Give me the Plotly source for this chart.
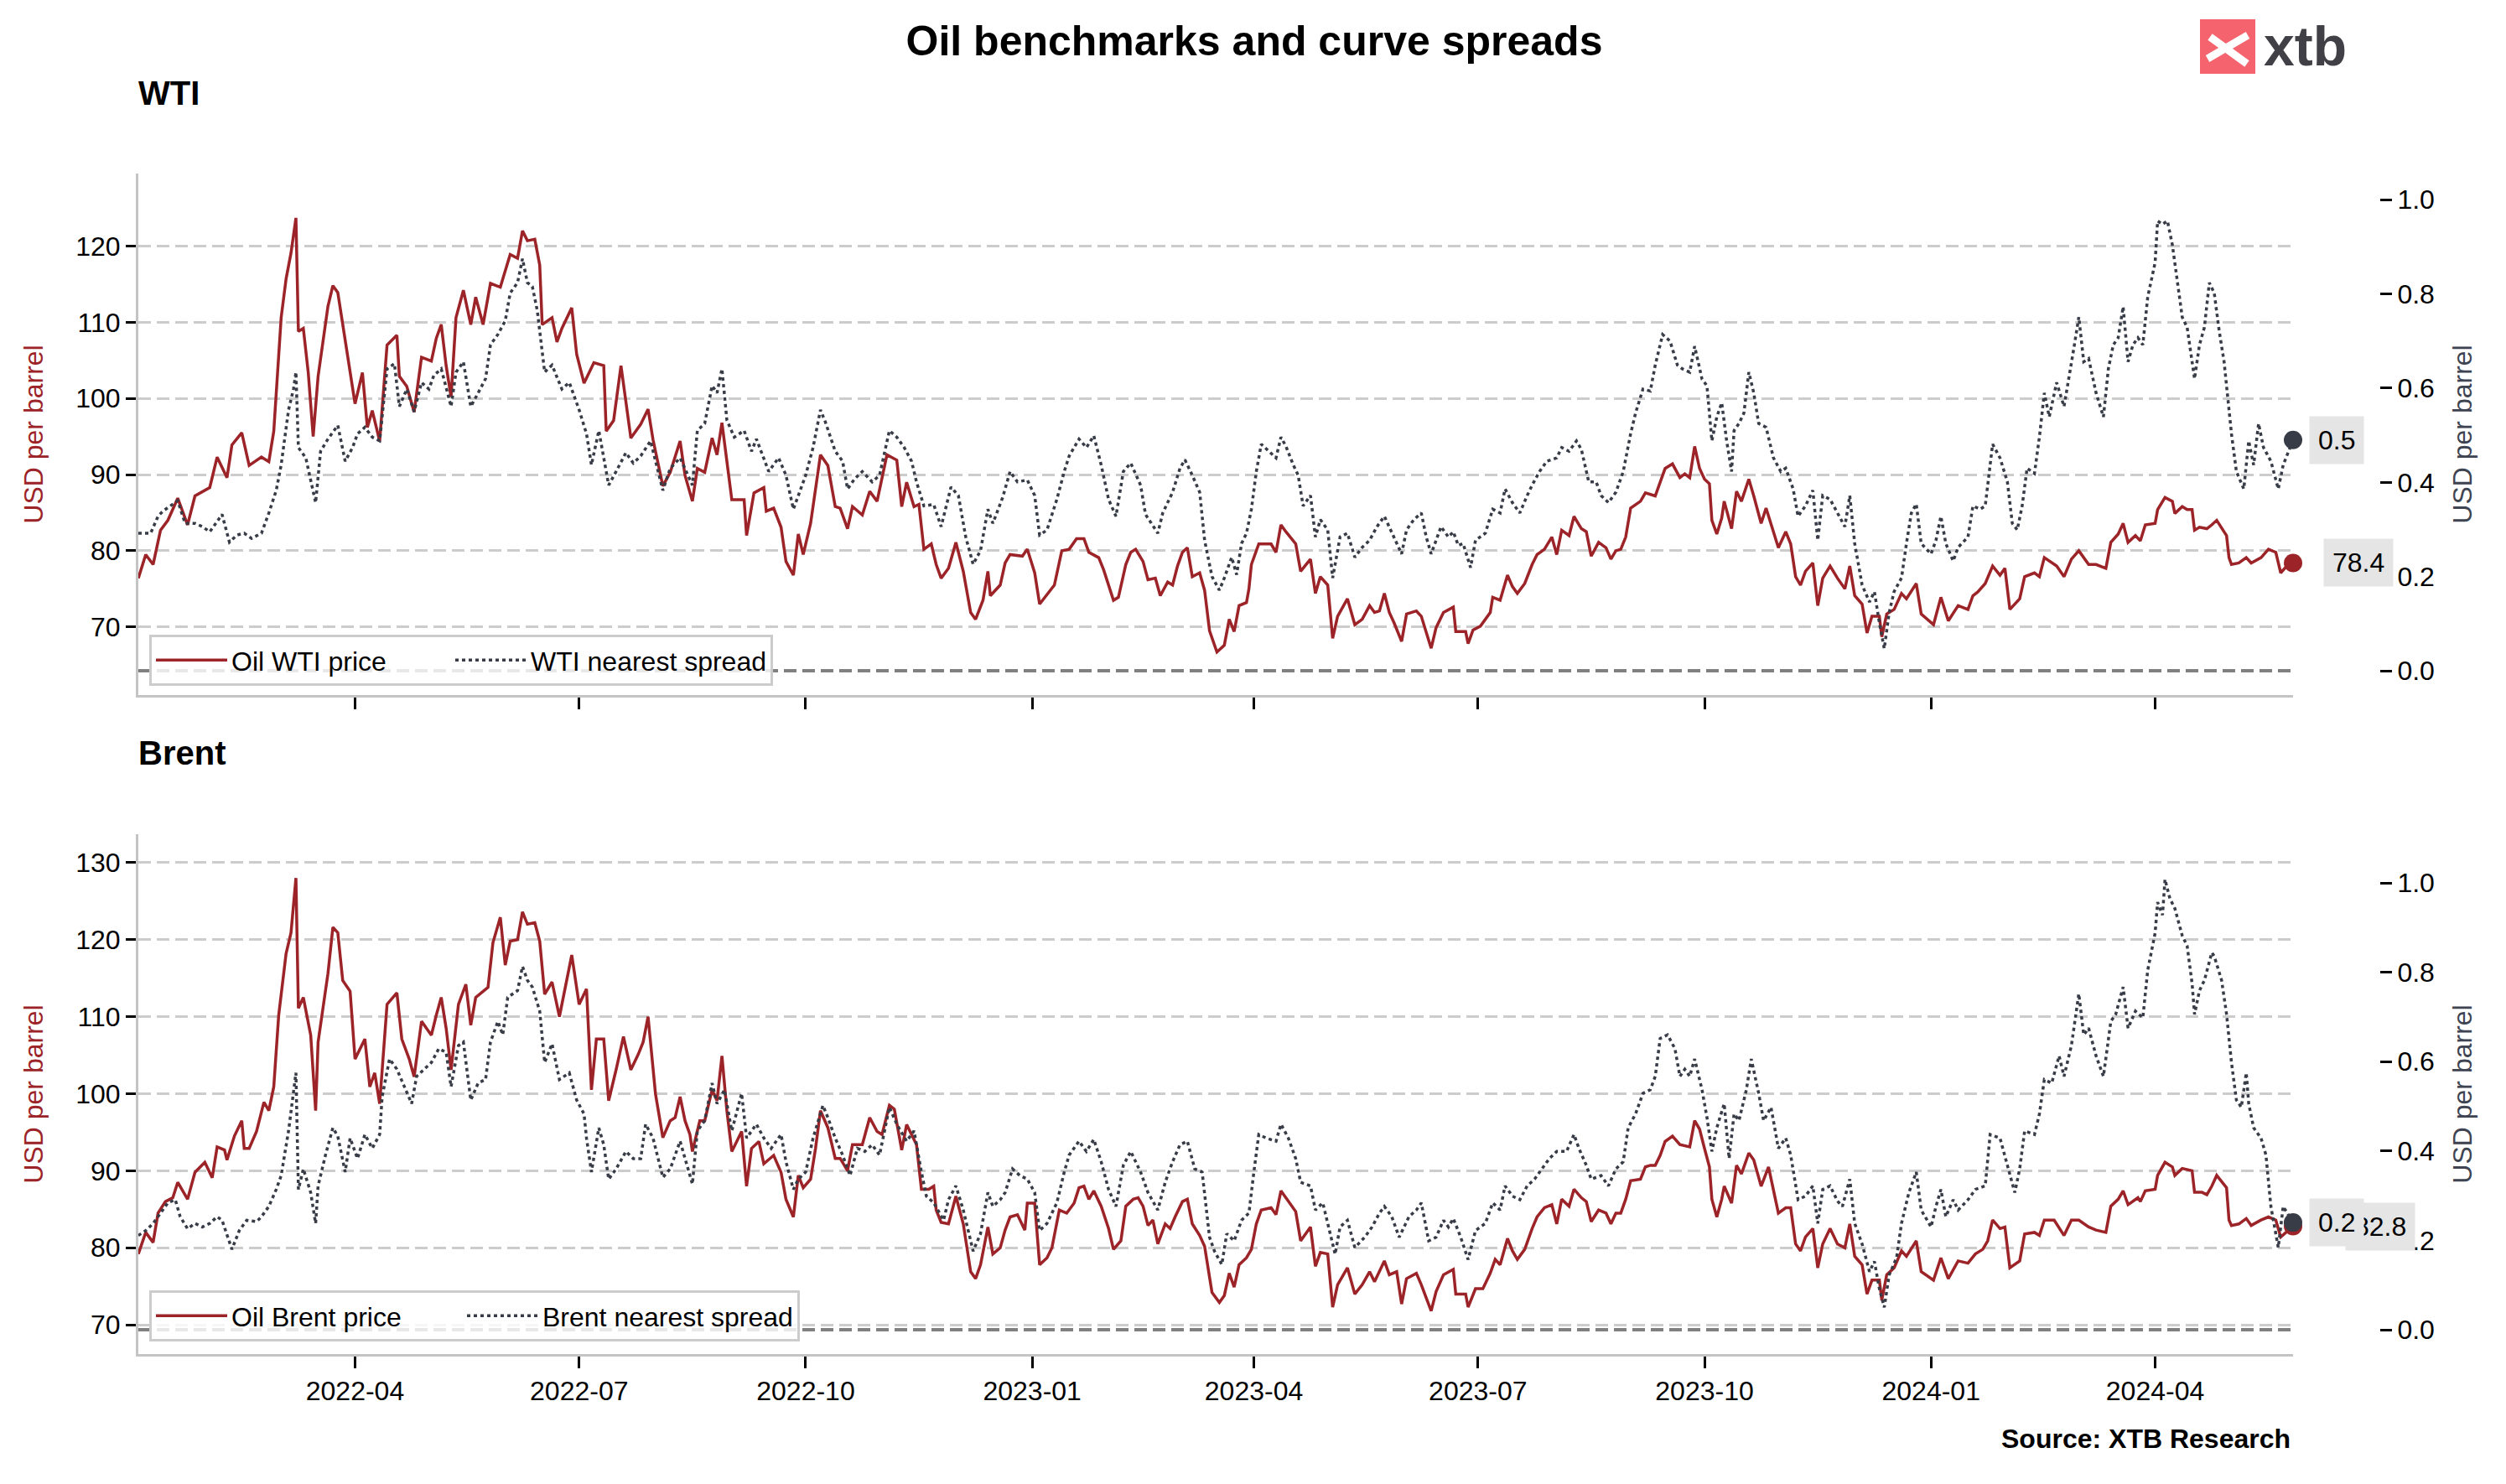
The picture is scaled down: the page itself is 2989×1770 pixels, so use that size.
import pandas as pd
import plotly.graph_objects as go

# ---------------- data (day offset from START, value) ----------------
START = pd.Timestamp("2022-01-03")

wti_price_pts = [
    (0, 76.4), (3, 79.5), (6, 78.2), (9, 82.7), (12, 84.0), (16, 86.9), (20, 83.4), (23, 87.2), (29, 88.3),
    (32, 92.3), (36, 89.6), (38, 93.9), (42, 95.5), (45, 91.2), (50, 92.3), (53, 91.7), (55, 95.7), (58, 110.6),
    (60, 115.7), (62, 119.1), (64, 123.7), (65, 108.8), (67, 109.2), (69, 103.4), (71, 95.0), (73, 102.9),
    (77, 112.1), (79, 114.8), (81, 113.9), (84, 107.9), (86, 103.8), (88, 99.3), (91, 103.4), (93, 96.2),
    (95, 98.4), (98, 94.4), (101, 107.0), (105, 108.3), (106, 102.9), (109, 101.6), (112, 98.2), (115, 105.4),
    (119, 104.9), (121, 107.9), (123, 109.7), (125, 104.3), (127, 100.2), (129, 110.6), (132, 114.2),
    (135, 109.7), (137, 113.3), (140, 109.7), (143, 115.1), (147, 114.6), (151, 118.9), (154, 118.4),
    (156, 122.0), (158, 120.7), (161, 120.9), (163, 117.5), (164, 109.7), (168, 110.6), (170, 107.4),
    (172, 109.2), (176, 111.9), (178, 105.8), (181, 102.0), (185, 104.7), (189, 104.3), (190, 95.7),
    (193, 97.1), (196, 104.3), (200, 94.8), (204, 96.6), (207, 98.6), (209, 94.6), (213, 88.5), (216, 90.3),
    (220, 94.4), (222, 89.9), (225, 86.5), (227, 90.8), (230, 90.3), (233, 94.8), (235, 92.6), (237, 96.8),
    (241, 86.7), (246, 86.7), (247, 82.0), (250, 87.6), (254, 88.3), (255, 85.2), (258, 85.6), (261, 83.1),
    (263, 78.6), (266, 76.8), (268, 82.2), (270, 79.5), (273, 83.6), (275, 88.3), (277, 92.6), (280, 91.2),
    (283, 85.8), (285, 85.6), (288, 82.9), (290, 85.8), (294, 84.7), (297, 87.8), (300, 86.5), (304, 92.6),
    (308, 91.9), (310, 85.8), (312, 89.0), (315, 85.8), (317, 86.1), (319, 80.2), (322, 80.9), (324, 78.2),
    (326, 76.4), (329, 77.7), (332, 81.1), (335, 77.3), (338, 71.9), (340, 71.0), (343, 73.5), (345, 77.3),
    (346, 74.1), (350, 75.5), (352, 78.4), (354, 79.5), (359, 79.3), (361, 80.2), (364, 77.1), (366, 73.0),
    (370, 74.6), (372, 75.5), (375, 80.0), (378, 80.2), (381, 81.6), (384, 81.6), (386, 79.8), (390, 79.1),
    (392, 77.5), (396, 73.5), (398, 73.9), (401, 78.2), (403, 79.8), (405, 80.2), (408, 78.6), (410, 76.2),
    (413, 76.4), (415, 74.1), (418, 75.9), (420, 75.5), (422, 78.0), (424, 79.8), (426, 80.4), (428, 76.6),
    (431, 77.1), (433, 74.8), (435, 69.5), (437, 67.8), (438, 66.7), (441, 67.6), (443, 71.0), (445, 69.4),
    (447, 72.8), (450, 73.2), (451, 75.0), (452, 78.2), (455, 80.9), (460, 80.9), (462, 79.8), (464, 83.4),
    (466, 82.5), (470, 80.9), (472, 77.3), (476, 78.9), (478, 74.4), (480, 76.6), (483, 75.5), (485, 68.5),
    (487, 71.4), (491, 73.7), (494, 70.3), (497, 71.0), (500, 72.8), (502, 71.9), (504, 72.1), (506, 74.4),
    (508, 71.9), (510, 70.5), (513, 68.1), (515, 71.7), (519, 72.1), (521, 71.4), (525, 67.2), (527, 69.9),
    (530, 71.9), (534, 72.6), (535, 69.4), (539, 69.4), (540, 67.8), (542, 69.6), (545, 70.1), (549, 71.9),
    (550, 73.9), (553, 73.5), (556, 76.8), (558, 75.3), (560, 74.4), (563, 75.7), (566, 78.2), (568, 79.5),
    (571, 80.2), (574, 81.8), (576, 79.5), (578, 82.7), (581, 82.0), (583, 84.5), (586, 82.9), (588, 82.5),
    (590, 79.3), (593, 81.1), (596, 80.4), (598, 78.9), (600, 80.0), (602, 80.2), (604, 81.8), (606, 85.6),
    (610, 86.5), (612, 87.6), (614, 87.4), (616, 87.2), (618, 89.0), (620, 90.8), (623, 91.4), (626, 89.6),
    (628, 90.1), (630, 89.6), (632, 93.7), (634, 90.8), (636, 89.4), (638, 88.8), (639, 84.0), (641, 82.2),
    (643, 84.3), (644, 86.5), (647, 82.9), (649, 87.8), (651, 86.5), (654, 89.4), (656, 87.2), (659, 83.6),
    (661, 85.6), (663, 83.4), (666, 80.4), (669, 82.5), (671, 80.9), (673, 76.6), (675, 75.5), (677, 77.3),
    (680, 78.4), (682, 72.8), (684, 76.4), (687, 78.0), (690, 76.4), (693, 75.0), (695, 78.0), (697, 74.1),
    (700, 73.0), (702, 69.2), (704, 71.4), (707, 71.4), (708, 68.7), (710, 71.7), (713, 72.3), (716, 74.4),
    (718, 73.7), (722, 75.7), (724, 71.7), (729, 70.3), (732, 73.9), (735, 70.8), (739, 72.8), (743, 72.3),
    (745, 74.1), (747, 74.6), (750, 75.7), (753, 78.0), (756, 76.8), (758, 77.7), (760, 72.3), (764, 73.7),
    (766, 76.6), (770, 77.1), (772, 76.6), (774, 79.1), (779, 78.0), (782, 76.6), (785, 78.9), (788, 80.0),
    (792, 78.2), (795, 78.2), (799, 77.7), (801, 81.1), (804, 82.2), (806, 83.6), (808, 81.1), (811, 82.0),
    (813, 81.3), (815, 83.4), (819, 83.6), (820, 85.4), (823, 87.0), (826, 86.5), (827, 84.9), (830, 85.8),
    (832, 85.4), (834, 85.4), (835, 82.7), (837, 83.1), (840, 82.9), (842, 83.4), (844, 84.0), (848, 82.0),
    (849, 79.1), (850, 78.2), (853, 78.4), (856, 79.1), (858, 78.4), (862, 79.1), (865, 80.2), (868, 79.8),
    (870, 77.1), (873, 78.2), (875, 78.4),
]

wti_spread_pts = [
    (0, 0.292), (5, 0.292), (8, 0.328), (10, 0.339), (13, 0.350), (16, 0.361), (19, 0.313), (23, 0.313),
    (26, 0.306), (29, 0.295), (32, 0.317), (34, 0.332), (37, 0.273), (40, 0.288), (43, 0.292), (46, 0.281),
    (50, 0.292), (53, 0.335), (56, 0.383), (58, 0.437), (61, 0.554), (63, 0.598), (64, 0.634), (65, 0.474),
    (68, 0.452), (72, 0.357), (74, 0.466), (77, 0.492), (81, 0.521), (84, 0.445), (87, 0.474), (89, 0.503),
    (92, 0.517), (95, 0.496), (98, 0.488), (101, 0.641), (104, 0.652), (106, 0.561), (109, 0.598),
    (112, 0.550), (115, 0.612), (118, 0.598), (120, 0.627), (123, 0.641), (127, 0.561), (129, 0.634),
    (132, 0.656), (135, 0.561), (138, 0.590), (141, 0.620), (143, 0.692), (146, 0.714), (149, 0.743),
    (151, 0.802), (154, 0.824), (156, 0.875), (158, 0.824), (160, 0.816), (162, 0.765), (165, 0.634),
    (168, 0.649), (172, 0.598), (175, 0.612), (179, 0.554), (182, 0.503), (184, 0.437), (187, 0.510),
    (191, 0.394), (194, 0.423), (198, 0.463), (201, 0.441), (204, 0.456), (208, 0.488), (211, 0.423),
    (213, 0.383), (216, 0.430), (220, 0.452), (225, 0.394), (227, 0.510), (230, 0.525), (233, 0.605),
    (235, 0.590), (237, 0.641), (239, 0.532), (242, 0.496), (246, 0.510), (249, 0.466), (251, 0.492),
    (256, 0.423), (260, 0.452), (263, 0.415), (266, 0.343), (269, 0.386), (271, 0.415), (274, 0.474),
    (277, 0.554), (279, 0.528), (283, 0.466), (286, 0.445), (288, 0.386), (291, 0.408), (294, 0.423),
    (298, 0.401), (301, 0.415), (305, 0.510), (308, 0.496), (311, 0.474), (314, 0.445), (316, 0.401),
    (319, 0.350), (323, 0.353), (326, 0.306), (330, 0.390), (333, 0.372), (336, 0.284), (339, 0.226),
    (342, 0.255), (345, 0.343), (347, 0.313), (351, 0.368), (354, 0.423), (357, 0.401), (361, 0.405),
    (364, 0.372), (366, 0.288), (369, 0.299), (373, 0.364), (376, 0.423), (378, 0.456), (382, 0.492),
    (385, 0.474), (388, 0.499), (391, 0.437), (394, 0.364), (397, 0.328), (400, 0.423), (403, 0.441),
    (407, 0.394), (409, 0.332), (414, 0.292), (416, 0.335), (420, 0.379), (423, 0.430), (425, 0.448),
    (428, 0.415), (431, 0.379), (433, 0.277), (436, 0.200), (439, 0.171), (441, 0.197), (444, 0.241),
    (446, 0.204), (448, 0.270), (450, 0.292), (452, 0.343), (454, 0.423), (456, 0.481), (459, 0.466),
    (462, 0.452), (464, 0.496), (466, 0.477), (469, 0.437), (471, 0.415), (473, 0.350), (476, 0.372),
    (478, 0.284), (480, 0.321), (483, 0.299), (485, 0.197), (488, 0.284), (491, 0.292), (494, 0.241),
    (497, 0.262), (500, 0.277), (503, 0.306), (506, 0.328), (508, 0.306), (510, 0.284), (513, 0.248),
    (515, 0.299), (518, 0.321), (521, 0.335), (523, 0.284), (525, 0.248), (529, 0.306), (532, 0.284),
    (534, 0.295), (536, 0.266), (538, 0.270), (541, 0.219), (543, 0.277), (547, 0.292), (550, 0.343),
    (553, 0.335), (555, 0.386), (558, 0.357), (561, 0.335), (564, 0.372), (566, 0.394), (569, 0.423),
    (572, 0.445), (576, 0.452), (578, 0.474), (581, 0.466), (584, 0.488), (586, 0.470), (589, 0.401),
    (592, 0.401), (594, 0.372), (597, 0.357), (600, 0.379), (603, 0.423), (606, 0.503), (608, 0.547),
    (611, 0.598), (614, 0.594), (616, 0.649), (619, 0.714), (622, 0.700), (625, 0.649), (627, 0.641),
    (630, 0.634), (632, 0.689), (635, 0.619), (637, 0.605), (639, 0.488), (641, 0.539), (643, 0.569),
    (645, 0.488), (647, 0.423), (648, 0.510), (650, 0.525), (652, 0.547), (654, 0.634), (656, 0.590),
    (658, 0.525), (661, 0.517), (664, 0.452), (667, 0.423), (669, 0.430), (672, 0.386), (674, 0.328),
    (677, 0.350), (680, 0.383), (682, 0.277), (684, 0.372), (687, 0.364), (690, 0.335), (693, 0.306),
    (695, 0.372), (697, 0.270), (700, 0.182), (703, 0.146), (705, 0.168), (707, 0.102), (709, 0.047),
    (711, 0.124), (713, 0.168), (716, 0.197), (718, 0.270), (720, 0.335), (722, 0.354), (724, 0.270),
    (728, 0.248), (730, 0.277), (732, 0.328), (734, 0.270), (737, 0.233), (739, 0.262), (743, 0.284),
    (745, 0.350), (748, 0.343), (750, 0.350), (753, 0.481), (756, 0.452), (759, 0.401), (761, 0.313),
    (763, 0.299), (765, 0.350), (767, 0.430), (770, 0.419), (772, 0.496), (774, 0.590), (776, 0.539),
    (779, 0.612), (782, 0.561), (784, 0.619), (786, 0.685), (788, 0.751), (790, 0.656), (792, 0.663),
    (795, 0.590), (798, 0.539), (800, 0.641), (802, 0.692), (804, 0.707), (806, 0.773), (808, 0.656),
    (810, 0.692), (812, 0.707), (814, 0.692), (816, 0.794), (819, 0.867), (820, 0.955), (822, 0.948),
    (824, 0.955), (826, 0.904), (828, 0.824), (830, 0.751), (832, 0.729), (835, 0.620), (837, 0.692),
    (839, 0.729), (841, 0.824), (843, 0.802), (845, 0.722), (847, 0.656), (850, 0.503), (852, 0.423),
    (855, 0.386), (857, 0.488), (859, 0.437), (861, 0.525), (863, 0.474), (866, 0.445), (869, 0.386),
    (871, 0.437), (875, 0.49),
]

brent_price_pts = [
    (0, 79.2), (3, 82.0), (6, 80.7), (8, 84.5), (11, 86.0), (14, 86.5), (16, 88.5), (20, 86.3), (23, 89.8),
    (27, 91.1), (30, 89.1), (32, 93.1), (35, 92.7), (36, 91.4), (39, 94.5), (42, 96.5), (43, 92.9),
    (45, 92.9), (48, 95.1), (51, 98.9), (53, 97.8), (55, 100.9), (57, 110.2), (58, 112.9), (60, 118.2),
    (62, 120.9), (64, 128.0), (65, 111.1), (67, 112.5), (70, 107.6), (72, 97.8), (73, 106.7), (75, 111.1),
    (77, 115.6), (79, 121.6), (81, 120.9), (83, 114.7), (86, 113.3), (88, 104.5), (92, 107.1), (94, 100.9),
    (96, 102.7), (98, 98.7), (101, 111.6), (105, 113.1), (107, 107.1), (110, 104.5), (112, 102.2),
    (115, 109.4), (119, 107.6), (121, 110.2), (123, 112.5), (125, 108.5), (127, 103.1), (130, 111.6),
    (133, 114.2), (135, 108.9), (137, 112.5), (142, 113.8), (144, 119.6), (147, 122.9), (149, 116.7),
    (151, 119.8), (154, 120.0), (156, 123.6), (158, 122.0), (161, 122.2), (163, 119.8), (165, 112.9),
    (168, 114.5), (171, 110.0), (174, 114.7), (176, 118.0), (179, 111.6), (182, 113.6), (184, 100.5),
    (186, 107.1), (189, 107.1), (191, 99.1), (194, 103.1), (197, 107.4), (200, 103.1), (203, 105.1),
    (205, 106.7), (207, 110.0), (210, 100.0), (213, 94.3), (216, 96.5), (218, 96.9), (220, 99.6),
    (222, 96.5), (224, 94.7), (225, 92.5), (228, 96.5), (230, 96.5), (233, 100.5), (235, 99.1),
    (237, 104.9), (239, 97.8), (241, 92.5), (245, 95.1), (247, 88.0), (249, 92.9), (252, 93.8), (254, 90.9),
    (258, 92.0), (261, 89.8), (263, 86.3), (266, 84.0), (268, 89.4), (270, 87.8), (273, 88.9), (275, 92.9),
    (277, 97.8), (280, 95.6), (283, 91.6), (285, 91.6), (288, 90.0), (290, 93.4), (294, 93.4), (297, 96.9),
    (300, 95.1), (302, 94.7), (305, 98.5), (307, 98.0), (310, 92.7), (312, 96.0), (316, 93.4), (318, 87.6),
    (321, 87.6), (323, 88.0), (324, 84.9), (326, 83.3), (329, 83.1), (332, 86.7), (335, 83.1), (338, 76.9),
    (340, 76.0), (342, 77.8), (345, 82.7), (347, 79.2), (350, 80.0), (352, 82.3), (354, 84.0), (357, 84.3),
    (360, 82.3), (361, 85.8), (364, 85.8), (366, 77.8), (369, 78.7), (371, 80.0), (374, 84.9), (377, 84.5),
    (380, 85.8), (382, 87.8), (384, 88.0), (386, 86.3), (388, 87.4), (391, 85.4), (394, 82.5), (396, 79.8),
    (399, 80.9), (401, 85.4), (404, 86.3), (406, 86.5), (408, 85.4), (410, 82.9), (412, 83.6), (414, 80.5),
    (417, 83.1), (419, 82.5), (421, 84.0), (424, 86.0), (426, 86.3), (428, 83.1), (431, 81.6), (433, 80.2),
    (436, 74.2), (439, 72.9), (441, 73.8), (443, 76.7), (445, 74.9), (447, 77.8), (450, 78.7), (452, 79.8),
    (454, 83.1), (456, 84.9), (460, 85.2), (462, 84.3), (464, 87.4), (467, 86.0), (470, 84.7), (472, 80.9),
    (476, 82.7), (478, 77.6), (480, 79.4), (483, 79.2), (485, 72.3), (487, 75.2), (491, 77.4), (494, 74.0),
    (497, 75.2), (500, 76.9), (502, 75.6), (506, 78.3), (508, 76.5), (511, 76.9), (513, 72.7), (515, 76.0),
    (519, 76.7), (521, 75.2), (525, 71.8), (527, 74.3), (530, 76.5), (534, 77.2), (535, 74.0), (539, 74.0),
    (540, 72.3), (543, 74.7), (546, 74.7), (549, 76.7), (551, 78.5), (553, 77.8), (556, 81.2), (558, 79.6),
    (560, 78.5), (563, 79.8), (566, 82.5), (568, 84.0), (571, 85.2), (574, 85.6), (576, 83.1), (578, 86.3),
    (581, 85.4), (583, 87.6), (586, 86.5), (588, 86.0), (590, 83.4), (593, 84.9), (596, 84.5), (598, 83.1),
    (600, 84.5), (602, 84.5), (604, 86.3), (606, 88.7), (610, 88.9), (612, 90.5), (614, 90.7), (616, 90.7),
    (618, 92.0), (620, 93.8), (623, 94.5), (626, 93.4), (630, 93.1), (632, 96.5), (634, 95.4), (636, 92.9),
    (638, 90.5), (639, 86.3), (641, 84.0), (643, 86.3), (644, 88.0), (647, 85.8), (649, 90.7), (651, 89.6),
    (654, 92.3), (656, 91.4), (659, 88.0), (662, 90.5), (664, 87.6), (666, 84.5), (669, 85.2), (671, 85.2),
    (673, 80.5), (675, 79.6), (677, 81.4), (680, 82.5), (682, 77.4), (684, 80.5), (687, 82.5), (690, 80.5),
    (693, 80.0), (695, 83.1), (697, 78.9), (700, 77.8), (702, 74.0), (704, 75.8), (707, 75.8), (708, 73.2),
    (710, 76.5), (713, 77.4), (716, 79.6), (718, 78.9), (722, 80.9), (724, 76.9), (729, 75.8), (732, 78.7),
    (735, 76.0), (739, 78.3), (743, 78.0), (746, 79.2), (749, 79.8), (751, 80.9), (753, 83.6), (756, 82.5),
    (758, 82.7), (760, 77.4), (764, 78.3), (766, 81.8), (770, 82.0), (772, 81.6), (774, 83.6), (778, 83.6),
    (782, 81.6), (785, 83.6), (788, 83.6), (792, 82.7), (795, 82.3), (799, 82.0), (801, 85.4), (804, 86.3),
    (806, 87.4), (808, 85.6), (812, 86.5), (813, 86.0), (815, 87.4), (819, 87.6), (820, 89.4), (823, 91.1),
    (826, 90.5), (827, 89.4), (830, 90.3), (834, 90.0), (835, 87.2), (838, 87.2), (840, 86.9), (842, 88.0),
    (844, 89.4), (848, 87.8), (849, 83.6), (850, 82.9), (853, 83.1), (856, 83.8), (858, 82.9), (862, 83.6),
    (865, 84.0), (868, 83.6), (870, 81.4), (875, 82.8),
]

brent_spread_pts = [
    (0, 0.211), (3, 0.222), (6, 0.238), (9, 0.261), (12, 0.284), (15, 0.291), (17, 0.253), (20, 0.226),
    (23, 0.238), (26, 0.230), (29, 0.238), (32, 0.253), (34, 0.245), (38, 0.180), (41, 0.222), (44, 0.245),
    (48, 0.242), (50, 0.253), (53, 0.276), (56, 0.314), (58, 0.345), (61, 0.445), (63, 0.529), (64, 0.575),
    (65, 0.314), (67, 0.360), (70, 0.307), (72, 0.238), (73, 0.322), (76, 0.391), (79, 0.452), (81, 0.433),
    (84, 0.353), (86, 0.429), (89, 0.383), (92, 0.437), (95, 0.406), (98, 0.437), (99, 0.521), (102, 0.606),
    (105, 0.583), (108, 0.544), (111, 0.506), (113, 0.567), (116, 0.583), (119, 0.598), (122, 0.629),
    (125, 0.621), (127, 0.544), (130, 0.636), (132, 0.644), (135, 0.514), (138, 0.552), (141, 0.560),
    (143, 0.644), (146, 0.690), (148, 0.660), (150, 0.744), (154, 0.759), (156, 0.813), (158, 0.782),
    (160, 0.767), (163, 0.713), (165, 0.598), (168, 0.640), (171, 0.560), (175, 0.575), (178, 0.514),
    (181, 0.483), (182, 0.429), (184, 0.353), (187, 0.452), (189, 0.414), (191, 0.337), (194, 0.360),
    (198, 0.399), (201, 0.383), (204, 0.383), (206, 0.460), (209, 0.429), (213, 0.341), (216, 0.360),
    (220, 0.422), (222, 0.383), (225, 0.326), (227, 0.445), (230, 0.468), (233, 0.552), (235, 0.506),
    (238, 0.537), (241, 0.445), (245, 0.529), (247, 0.429), (251, 0.460), (254, 0.429), (257, 0.406),
    (261, 0.437), (263, 0.376), (266, 0.314), (268, 0.337), (271, 0.353), (274, 0.429), (278, 0.502),
    (280, 0.475), (283, 0.429), (286, 0.391), (289, 0.345), (292, 0.406), (295, 0.399), (298, 0.414),
    (301, 0.391), (305, 0.498), (308, 0.460), (312, 0.422), (315, 0.445), (318, 0.353), (320, 0.299),
    (323, 0.284), (327, 0.245), (329, 0.291), (332, 0.322), (335, 0.268), (339, 0.176), (342, 0.215),
    (345, 0.307), (347, 0.276), (350, 0.291), (352, 0.307), (355, 0.360), (358, 0.345), (361, 0.337),
    (364, 0.307), (366, 0.222), (369, 0.238), (373, 0.284), (376, 0.353), (378, 0.391), (382, 0.422),
    (385, 0.399), (388, 0.426), (391, 0.376), (394, 0.314), (397, 0.276), (400, 0.368), (403, 0.399),
    (407, 0.353), (410, 0.307), (414, 0.268), (417, 0.330), (420, 0.376), (423, 0.414), (426, 0.422),
    (429, 0.360), (432, 0.353), (435, 0.207), (437, 0.176), (440, 0.146), (442, 0.215), (445, 0.199),
    (448, 0.245), (451, 0.261), (453, 0.353), (455, 0.437), (458, 0.429), (462, 0.422), (464, 0.460),
    (467, 0.429), (470, 0.383), (472, 0.330), (476, 0.322), (478, 0.268), (481, 0.284), (483, 0.238),
    (486, 0.169), (488, 0.230), (491, 0.245), (494, 0.184), (498, 0.207), (501, 0.230), (504, 0.261),
    (506, 0.276), (509, 0.253), (512, 0.207), (516, 0.253), (519, 0.268), (521, 0.284), (524, 0.199),
    (527, 0.207), (530, 0.245), (532, 0.230), (534, 0.249), (537, 0.207), (540, 0.157), (543, 0.222),
    (547, 0.238), (550, 0.284), (553, 0.268), (555, 0.322), (558, 0.299), (561, 0.291), (564, 0.322),
    (567, 0.337), (570, 0.360), (573, 0.383), (576, 0.399), (580, 0.399), (583, 0.437), (585, 0.406),
    (588, 0.368), (590, 0.337), (594, 0.345), (597, 0.322), (600, 0.360), (603, 0.376), (605, 0.452),
    (608, 0.483), (611, 0.529), (614, 0.537), (616, 0.567), (618, 0.652), (621, 0.660), (624, 0.629),
    (626, 0.567), (628, 0.583), (630, 0.567), (632, 0.606), (635, 0.537), (637, 0.475), (639, 0.399),
    (641, 0.452), (644, 0.506), (646, 0.383), (648, 0.483), (650, 0.468), (653, 0.537), (655, 0.606),
    (658, 0.529), (660, 0.468), (663, 0.498), (666, 0.406), (669, 0.429), (671, 0.391), (674, 0.291),
    (677, 0.299), (680, 0.322), (682, 0.238), (684, 0.314), (687, 0.322), (690, 0.288), (692, 0.276),
    (695, 0.337), (697, 0.238), (700, 0.192), (703, 0.130), (705, 0.153), (707, 0.092), (709, 0.050),
    (711, 0.123), (714, 0.161), (716, 0.238), (719, 0.307), (722, 0.353), (724, 0.268), (728, 0.230),
    (730, 0.276), (732, 0.314), (734, 0.253), (737, 0.291), (739, 0.268), (743, 0.291), (746, 0.314),
    (750, 0.322), (752, 0.437), (756, 0.429), (759, 0.368), (762, 0.307), (764, 0.360), (766, 0.445),
    (770, 0.437), (772, 0.483), (774, 0.560), (777, 0.552), (780, 0.613), (782, 0.567), (785, 0.636),
    (788, 0.752), (790, 0.660), (792, 0.675), (795, 0.613), (798, 0.567), (801, 0.690), (803, 0.706),
    (806, 0.767), (808, 0.675), (811, 0.713), (814, 0.698), (816, 0.805), (819, 0.888), (820, 0.957),
    (822, 0.928), (823, 1.008), (825, 0.965), (827, 0.943), (830, 0.882), (832, 0.859), (834, 0.775),
    (835, 0.706), (837, 0.759), (839, 0.782), (842, 0.844), (843, 0.836), (846, 0.782), (848, 0.706),
    (850, 0.598), (852, 0.514), (854, 0.498), (856, 0.575), (857, 0.506), (859, 0.452), (862, 0.429),
    (864, 0.391), (866, 0.276), (869, 0.184), (871, 0.276), (875, 0.24),
]

# ---------------- styling ----------------
W, H = 2989, 1770
OFF = 8  # page body margin added by the browser around the figure
ML, MR, MT, MB = 157, 159, 199, 163
PW, PH = W - ML - MR, H - MT - MB
FONT = "Liberation Sans, Arial, Helvetica, sans-serif"
RED = "#9C2428"
DARK = "#373C47"
GRID = "#CCCCCC"
DASH = "15px,7px"


def split(pts):
    days = [p[0] for p in pts]
    vals = [p[1] for p in pts]
    dates = [START + pd.Timedelta(days=d) for d in days]
    return dates, vals


wti_d, wti_v = split(wti_price_pts)
wsp_d, wsp_v = split(wti_spread_pts)
br_d, br_v = split(brent_price_pts)
bsp_d, bsp_v = split(brent_spread_pts)


def FX(xp):  # page pixel -> paper x
    return (xp - OFF - ML) / PW


def FY(yp):  # page pixel -> paper y
    return (H - MB - (yp - OFF)) / PH


fig = go.Figure()

# top panel
fig.add_trace(go.Scatter(x=wti_d, y=wti_v, mode="lines", name="Oil WTI price", legendwidth=257,
                         line=dict(color=RED, width=3.5), xaxis="x", yaxis="y", legend="legend"))
fig.add_trace(go.Scatter(x=wsp_d, y=wsp_v, mode="lines", name="WTI nearest spread",
                         line=dict(color=DARK, width=3.5, dash="4px,4px"), xaxis="x", yaxis="y2",
                         legend="legend"))
fig.add_trace(go.Scatter(x=[wti_d[-1]], y=[wti_v[-1]], mode="markers", showlegend=False, cliponaxis=False,
                         marker=dict(color=RED, size=22), xaxis="x", yaxis="y"))
fig.add_trace(go.Scatter(x=[wsp_d[-1]], y=[wsp_v[-1]], mode="markers", showlegend=False, cliponaxis=False,
                         marker=dict(color=DARK, size=22), xaxis="x", yaxis="y2"))

# bottom panel
fig.add_trace(go.Scatter(x=br_d, y=br_v, mode="lines", name="Oil Brent price", legendwidth=271,
                         line=dict(color=RED, width=3.5), xaxis="x2", yaxis="y3", legend="legend2"))
fig.add_trace(go.Scatter(x=bsp_d, y=bsp_v, mode="lines", name="Brent nearest spread",
                         line=dict(color=DARK, width=3.5, dash="4px,4px"), xaxis="x2", yaxis="y4",
                         legend="legend2"))
fig.add_trace(go.Scatter(x=[br_d[-1]], y=[br_v[-1]], mode="markers", showlegend=False, cliponaxis=False,
                         marker=dict(color=RED, size=22), xaxis="x2", yaxis="y3"))
fig.add_trace(go.Scatter(x=[bsp_d[-1]], y=[bsp_v[-1]], mode="markers", showlegend=False, cliponaxis=False,
                         marker=dict(color=DARK, size=22), xaxis="x2", yaxis="y4"))

x_dom = [0, FX(2735)]
top_dom = [FY(829), 1]
bot_dom = [0, FY(995)]
x_range = [START, wti_d[-1]]

xcommon = dict(type="date", range=x_range, domain=x_dom, showgrid=False, zeroline=False,
               showline=True, linecolor="#C4C4C4", linewidth=3,
               ticks="outside", ticklen=14, tickwidth=3, tickcolor="#000000",
               tick0="2022-01-01", dtick="M3", tickformat="%Y-%m",
               tickfont=dict(size=32, color="#000000"), automargin=False)
yleft = dict(showgrid=True, gridcolor=GRID, gridwidth=3, griddash=DASH, zeroline=False,
             showline=True, linecolor="#C4C4C4", linewidth=3, ticks="outside", ticklen=12,
             tickwidth=3, tickcolor="#000000", dtick=10, tickfont=dict(size=32, color="#000000"),
             automargin=False,
             title=dict(text="USD per barrel", font=dict(size=32, color=RED), standoff=30))
yright = dict(showgrid=False, zeroline=False, showline=False, side="right", anchor="free",
              position=1, ticks="outside", ticklen=14, tickwidth=3, tickcolor="#000000",
              dtick=0.2, tickformat=".1f", tickfont=dict(size=32, color="#000000"), automargin=False,
              title=dict(text="USD per barrel", font=dict(size=32, color="#3E4451"), standoff=22))

legend_common = dict(orientation="h", xanchor="left", yanchor="bottom",
                     bgcolor="rgba(255,255,255,0.82)", bordercolor="#CCCCCC", borderwidth=3,
                     font=dict(size=32, color="#000000"), itemwidth=85)

fig.update_layout(
    width=W, height=H,
    margin=dict(l=ML, r=MR, t=MT, b=MB),
    paper_bgcolor="white", plot_bgcolor="white",
    font=dict(family=FONT, size=32, color="#000000"),
    title=dict(text="<b>Oil benchmarks and curve spreads</b>", x=FX(1496), xref="paper",
               xanchor="center", y=1 - (48 - OFF) / H, yref="container", yanchor="middle",
               font=dict(size=50, color="#000000")),
    xaxis=dict(xcommon, anchor="y", showticklabels=False),
    xaxis2=dict(xcommon, anchor="y3", matches="x"),
    yaxis=dict(yleft, domain=top_dom, anchor="x", range=[61.06, 129.52]),
    yaxis2=dict(yright, overlaying="y", range=[-0.0516, 1.0557]),
    yaxis3=dict(yleft, domain=bot_dom, anchor="x2", range=[66.21, 133.68]),
    yaxis4=dict(yright, overlaying="y3", range=[-0.0544, 1.109]),
    legend=dict(legend_common, x=FX(178), y=FY(818)),
    legend2=dict(legend_common, x=FX(178), y=FY(1600)),
    showlegend=True,
)

# zero lines of the spread axes
for xr, yr in (("x domain", "y2"), ("x2 domain", "y4")):
    fig.add_shape(type="line", xref=xr, yref=yr, x0=0, x1=1, y0=0, y1=0,
                  line=dict(color="#808080", width=4, dash=DASH), layer="below")

# last-value labels
labels = [
    (wti_d[-1], wti_v[-1], "x", "y", 36),
    (wsp_d[-1], wsp_v[-1], "x", "y2", 19),
    (br_d[-1], br_v[-1], "x2", "y3", 62),
    (bsp_d[-1], bsp_v[-1], "x2", "y4", 19),
]
for xv, yv, xr, yr, shift in labels:
    fig.add_annotation(x=xv, y=yv, xref=xr, yref=yr, text=f"{yv:.1f}", showarrow=False,
                       xanchor="left", yanchor="middle", xshift=shift, bgcolor="#E5E5E5",
                       borderpad=10, font=dict(size=32, color="#000000"))

# panel titles and source
fig.add_annotation(text="<b>WTI</b>", xref="paper", yref="paper", x=FX(163), y=FY(111),
                   xanchor="left", yanchor="middle", showarrow=False, font=dict(size=40, color="#000000"))
fig.add_annotation(text="<b>Brent</b>", xref="paper", yref="paper", x=FX(163), y=FY(898),
                   xanchor="left", yanchor="middle", showarrow=False, font=dict(size=40, color="#000000"))
fig.add_annotation(text="<b>Source: XTB Research</b>", xref="paper", yref="paper",
                   x=FX(2734), y=FY(1716), xanchor="right", yanchor="middle",
                   showarrow=False, font=dict(size=32, color="#000000"))

# xtb logo
fig.add_shape(type="rect", xref="paper", yref="paper", x0=FX(2624), x1=FX(2690), y0=FY(88), y1=FY(23),
              fillcolor="#F5646E", line=dict(width=0))
for (ax_, ay_), (bx_, by_) in (((2636, 44), (2680, 76)), ((2681, 42), (2633, 70))):
    fig.add_shape(type="line", xref="paper", yref="paper", x0=FX(ax_), y0=FY(ay_), x1=FX(bx_), y1=FY(by_),
                  line=dict(color="white", width=9))
fig.add_annotation(text="<b>xtb</b>", xref="paper", yref="paper", x=FX(2698),
                   y=FY(55), xanchor="left", yanchor="middle", showarrow=False,
                   font=dict(size=66, color="#414046"))

fig.write_html("out.html")
